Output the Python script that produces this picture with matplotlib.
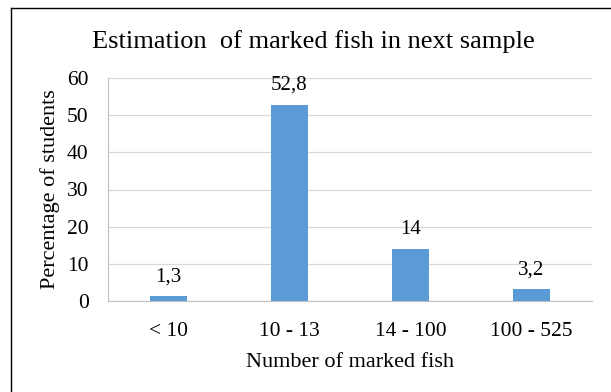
import matplotlib
matplotlib.use("Agg")
import matplotlib.pyplot as plt
from matplotlib.lines import Line2D

# data
categories = ["< 10", "10 - 13", "14 - 100", "100 - 525"]
values = [1.3, 52.8, 14, 3.2]
value_labels = ["1,3", "52,8", "14", "3,2"]
y_ticks = [0, 10, 20, 30, 40, 50, 60]

plt.rcParams["font.family"] = ["Liberation Serif", "DejaVu Serif"]

W, H = 611, 392
fig = plt.figure(figsize=(W / 100, H / 100), dpi=100)
ax = fig.add_axes([108 / W, 1 - 301 / H, (592 - 108) / W, (301 - 78) / H])

x = range(len(categories))
ax.bar(x, values, width=0.31, color="#5B9BD5", zorder=3)

for xi, v, lab in zip(x, values, value_labels):
    ax.annotate(lab, (xi, v), xytext=(0, 7), textcoords="offset points",
                ha="center", va="bottom", fontsize=15)

ax.set_xlim(-0.5, len(categories) - 0.5)
ax.set_ylim(0, 60)
ax.set_yticks(y_ticks)
ax.set_xticks(list(x))
ax.set_xticklabels(categories)
ax.tick_params(axis="both", length=0, labelsize=15.5)
ax.tick_params(axis="y", pad=14)
ax.tick_params(axis="x", pad=15)

ax.grid(axis="y", color="#D9D9D9", linewidth=0.9, zorder=0)
for side in ["top", "right"]:
    ax.spines[side].set_visible(False)
ax.spines["left"].set_color("#BFBFBF")
ax.spines["bottom"].set_color("#BFBFBF")

ax.set_ylabel("Percentage of students", fontsize=16, labelpad=5)
ax.set_xlabel("Number of marked fish", fontsize=16, labelpad=9)

fig.text(313 / W, 1 - 42 / H, "Estimation  of marked fish in next sample",
         ha="center", va="center", fontsize=19)

# frame of the chart area (only top and left edges are visible)
fig.add_artist(Line2D([11 / W, 1], [1 - 8 / H, 1 - 8 / H], color="black", linewidth=1))
fig.add_artist(Line2D([11 / W, 11 / W], [0, 1 - 8 / H], color="black", linewidth=1))

fig.savefig("out.png", dpi=100)
